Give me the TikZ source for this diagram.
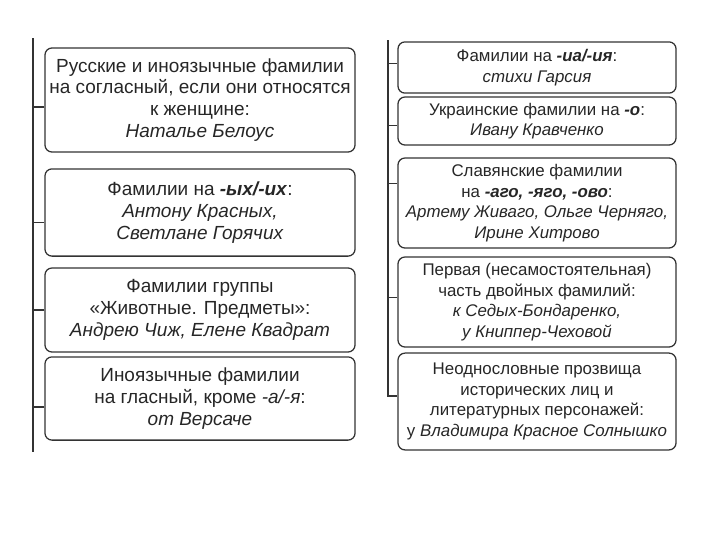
\documentclass[tikz,border=0pt]{standalone}
\usepackage{fontspec}
\setmainfont{Liberation Sans}
\newcommand{\famblock}[4][]{\node[famblock,#1] at (#2) (#3) {#4}}
\newcommand{\sfx}[1]{\textbf{\textit{#1}}}

\begin{document}
\begin{tikzpicture}[x=0.025cm,y=-0.025cm,
    famblock/.style={draw=black!80,line width=0.9pt,rounded corners=5pt,align=center,inner sep=0pt,text=black!85},
    lcol/.style={minimum width=7.75cm,font=\fontsize{13.5}{15.6}\selectfont},
    rcol/.style={minimum width=6.95cm,font=\fontsize{12}{14.6}\selectfont},
    guide/.style={draw=black!80,line width=0.9pt}]
  \useasboundingbox (0,0) rectangle (720,540);

  % left column
  \coordinate (lTop) at (33,38);
  \coordinate (lBot) at (33,452);
  \famblock[lcol,minimum height=2.6cm]{200,100}{l1}{Русские и иноязычные фамилии\\на согласный, если они относятся\\к женщине:\\\textit{Наталье Белоус}};
  \famblock[lcol,minimum height=2.18cm]{200,212.5}{l2}{Фамилии на \sfx{-ых/-их}:\\\textit{Антону Красных,}\\\textit{Светлане Горячих}};
  \famblock[lcol,minimum height=2.1cm]{200,310}{l3}{Фамилии группы\\«Животные. Предметы»:\\\textit{Андрею Чиж, Елене Квадрат}};
  \famblock[lcol,minimum height=2.08cm]{200,398.5}{l4}{Иноязычные фамилии\\на гласный, кроме \textit{-а/-я}:\\\textit{от Версаче}};
  \draw[guide] (lTop) -- (lBot);
  \draw[guide] ([yshift=-5pt]l1.west) -- ([yshift=-5pt]l1.west -| lTop);
  \draw[guide] ([yshift=-7pt]l2.west) -- ([yshift=-7pt]l2.west -| lTop);
  \draw[guide] (l3.west) -- (l3.west -| lTop);
  \draw[guide] ([yshift=-6pt]l4.west) -- ([yshift=-6pt]l4.west -| lTop);

  % right column
  \coordinate (rTop) at (388,40);
  \famblock[rcol,minimum height=1.28cm]{537,67.5}{r1}{Фамилии на \sfx{-иа/-ия}:\\\textit{стихи Гарсия}};
  \famblock[rcol,minimum height=1.2cm]{537,121}{r2}{Украинские фамилии на \sfx{-о}:\\\textit{Ивану Кравченко}};
  \famblock[rcol,minimum height=2.25cm]{537,203}{r3}{Славянские фамилии\\на \sfx{-аго, -яго, -ово}:\\\textit{Артему Живаго, Ольге Черняго,}\\\textit{Ирине Хитрово}};
  \famblock[rcol,minimum height=2.25cm]{537,302}{r4}{Первая (несамостоятельная)\\часть двойных фамилий:\\\textit{к Седых-Бондаренко,}\\\textit{у Книппер-Чеховой}};
  \famblock[rcol,minimum height=2.42cm]{537,401.5}{r5}{Неоднословные прозвища\\исторических лиц и\\литературных персонажей:\\у \textit{Владимира Красное Солнышко}};
  \draw[guide] (rTop) |- ([yshift=4pt]r5.west);
  \draw[guide] ([yshift=3pt]r1.west) -- ([yshift=3pt]r1.west -| rTop);
  \draw[guide] ([yshift=-3pt]r2.west) -- ([yshift=-3pt]r2.west -| rTop);
  \draw[guide] ([yshift=14pt]r3.west) -- ([yshift=14pt]r3.west -| rTop);
  \draw[guide] ([yshift=3pt]r4.west) -- ([yshift=3pt]r4.west -| rTop);
\end{tikzpicture}
\end{document}
